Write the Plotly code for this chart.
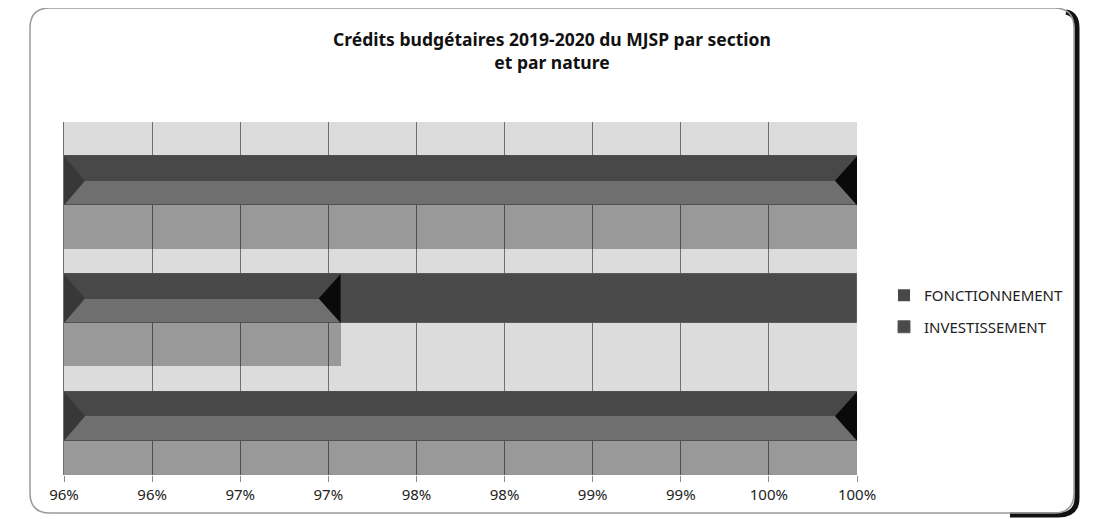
import plotly.graph_objects as go

# chart data (share of credits, per line)
categories = ["Ligne 1", "Ligne 2", "Ligne 3"]
fonctionnement = [1.0, 0.9707, 1.0]
investissement = [0.0, 0.0293, 0.0]
tick_values = [0.955, 0.96, 0.965, 0.97, 0.975, 0.98, 0.985, 0.99, 0.995, 1.0]
tick_labels = ["96%", "96%", "97%", "97%", "98%", "98%", "99%", "99%", "100%", "100%"]

# the page puts the figure 8px in from the top-left corner
OFF = 8
W, H = 1094 - OFF, 519 - OFF
L, R, T, B = 64 - OFF, 857 - OFF, 122 - OFF, 475 - OFF
BAR_W = 0.415
FONT = "Noto Sans"


def px(x):
    return (x - OFF - L) / (R - L)


def py(y):
    return (B - (y - OFF)) / (B - T)


fig = go.Figure()

# drop shadow under the fonctionnement bars (see-through so the grid shows)
fig.add_trace(go.Bar(
    y=categories, x=fonctionnement, base=0, orientation="h",
    width=BAR_W, offset=-BAR_W / 2 + 0.37,
    marker=dict(color="rgba(0,0,0,0.3)", line=dict(width=0)),
    showlegend=False, hoverinfo="skip"))

# fonctionnement: lighter lower bevel + darker upper half
fig.add_trace(go.Bar(
    y=categories, x=fonctionnement, base=0, orientation="h",
    width=BAR_W, offset=-BAR_W / 2, legendgroup="f",
    marker=dict(color="#6f6f6f", line=dict(color="#505050", width=1)),
    showlegend=False, hoverinfo="skip"))
fig.add_trace(go.Bar(
    y=categories, x=fonctionnement, base=0, orientation="h",
    width=BAR_W / 2, offset=-BAR_W / 2, legendgroup="f",
    name="FONCTIONNEMENT",
    marker=dict(color="#484848", line=dict(width=0))))

fig.add_trace(go.Bar(
    y=categories, x=investissement, base=fonctionnement, orientation="h",
    width=BAR_W, offset=-BAR_W / 2, name="INVESTISSEMENT", legendgroup="i",
    marker=dict(color="#4a4a4a", line=dict(color="#5a5a5a", width=1))))

shapes = []
half = 24.5
# bevel triangles at both ends of each fonctionnement bar
for cat, v in zip(categories, fonctionnement):
    shapes.append(dict(
        type="path", xref="x", yref="y", xsizemode="pixel", ysizemode="pixel",
        xanchor=tick_values[0], yanchor=cat,
        path=f"M 0 {half} L 0 {-half} L 21 0 Z",
        fillcolor="#383838", line=dict(width=0), layer="above"))
    shapes.append(dict(
        type="path", xref="x", yref="y", xsizemode="pixel", ysizemode="pixel",
        xanchor=v, yanchor=cat,
        path=f"M 0 {half} L 0 {-half} L -22 0 Z",
        fillcolor="#0a0a0a", line=dict(width=0), layer="above"))

# rounded frame with dark shadow on the right
x0, y0, x1, y1, r = px(30), py(8), px(1074), py(513), 20
rx, ry = r / (R - L), r / (B - T)
frame = (f"M {x0 + rx} {y0} L {x1 - rx} {y0} Q {x1} {y0} {x1} {y0 - ry} "
         f"L {x1} {y1 + ry} Q {x1} {y1} {x1 - rx} {y1} L {x0 + rx} {y1} "
         f"Q {x0} {y1} {x0} {y1 + ry} L {x0} {y0 - ry} Q {x0} {y0} {x0 + rx} {y0} Z")
sx = px(1077)
shadow = (f"M {px(1066)} {py(12)} Q {sx} {py(14)} {sx} {py(28)} L {sx} {py(498)} "
          f"Q {sx} {py(515)} {px(1058)} {py(515)} L {px(1010)} {py(515)}")
shapes.append(dict(type="path", xref="paper", yref="paper", path=shadow,
                   line=dict(color="#111111", width=5), layer="below"))
shapes.append(dict(type="path", xref="paper", yref="paper", path=frame,
                   line=dict(color="#9a9a9a", width=1.5), layer="below"))

fig.update_layout(
    width=W, height=H,
    margin=dict(l=L, r=W - R, t=T, b=H - B),
    paper_bgcolor="white", plot_bgcolor="#dcdcdc",
    barmode="overlay", bargap=0,
    font=dict(family=FONT, size=15, color="#222222"),
    title=dict(text="<b>Crédits budgétaires 2019-2020 du MJSP par section<br>et par nature</b>",
               x=(552 - OFF) / W, xref="container", xanchor="center",
               y=1 - (46 - OFF) / H, yanchor="middle",
               font=dict(family=FONT, size=17.5, color="#111111")),
    legend=dict(x=px(884), y=py(311), xanchor="left", yanchor="middle",
                traceorder="grouped", font=dict(size=15, color="#222222"),
                itemwidth=30, tracegroupgap=9, bgcolor="rgba(0,0,0,0)"),
    xaxis=dict(range=[tick_values[0], tick_values[-1]], tickvals=tick_values,
               ticktext=tick_labels, showgrid=True, gridcolor="#707070",
               gridwidth=1, ticks="outside", ticklen=6, tickcolor="#8a8a8a",
               showline=False, zeroline=False, fixedrange=True,
               tickfont=dict(size=15, color="#222222")),
    yaxis=dict(categoryorder="array", categoryarray=categories,
               range=[2.5, -0.5], showticklabels=False, showgrid=False,
               showline=True, linecolor="#707070", zeroline=False),
    shapes=shapes,
)

fig.write_html("out.html")
